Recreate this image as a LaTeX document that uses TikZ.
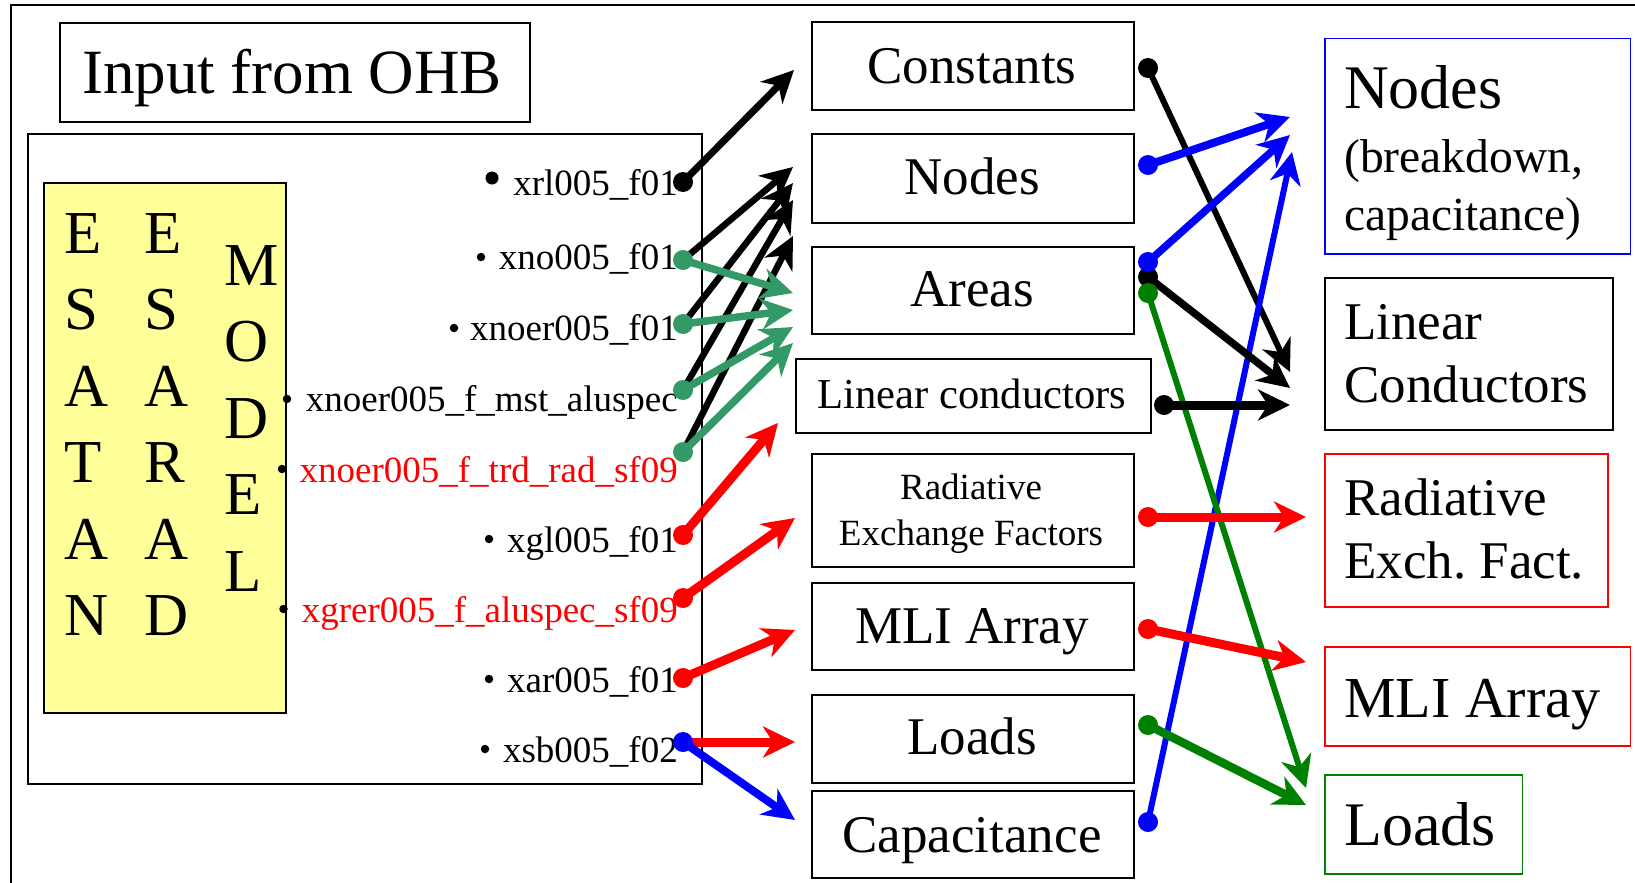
\documentclass[tikz,border=0pt]{standalone}
\usepackage{fontspec}
\setmainfont{Liberation Serif}
\usetikzlibrary{arrows.meta}
\definecolor{sgreen}{RGB}{51,153,102}
\definecolor{dgreen}{RGB}{0,128,0}
\definecolor{pale}{RGB}{255,255,153}
\newcommand{\fs}[1]{\fontsize{#1}{#1}\selectfont}
\begin{document}
\begin{tikzpicture}[x=1pt,y=-1pt,
  box/.style={draw, line width=2pt, inner sep=0pt, anchor=north west},
  txt/.style={inner sep=0pt},
  lbl/.style={inner sep=0pt, anchor=base east, font=\fs{37}},
  bul/.style={circle, fill=black, inner sep=0pt, minimum size=#1},
  dot/.style={circle, fill=#1, inner sep=0pt, minimum size=20pt},
  arr/.style={-{Stealth[length=32pt,width=31pt,inset=10pt]}},
  letter/.style={inner sep=0pt, anchor=base west, font=\fs{61}},
]
\useasboundingbox (0,0) rectangle (1635,883);

% outer frame
\draw[line width=2pt] (11,883) -- (11,5) -- (1635,5);

% left part: source model
\node[box, minimum width=470pt, minimum height=99pt] (ohb) at (59,22) {};
\node[txt, anchor=base, font=\fs{63}] (ohbtext) at (292,93) {Input from OHB};
\node[box, minimum width=674pt, minimum height=650pt] (model) at (27,133) {};
\node[box, fill=pale, minimum width=242pt, minimum height=530pt] (yellow) at (43,182) {};

\foreach \l [count=\i from 0] in {E,S,A,T,A,N}
  \node[letter] (c1-\i) at (64,{253+76.5*\i}) {\l};
\foreach \l [count=\i from 0] in {E,S,A,R,A,D}
  \node[letter] (c2-\i) at (144,{253+76.5*\i}) {\l};
\foreach \l [count=\i from 0] in {M,O,D,E,L}
  \node[letter] (c3-\i) at (224,{285+76.5*\i}) {\l};

% file labels
\node[lbl] (l-xrl)   at (678,195) {xrl005\_f01};
\node[lbl] (l-xno)   at (678,269) {xno005\_f01};
\node[lbl] (l-xnoer) at (678,340) {xnoer005\_f01};
\node[lbl] (l-mst)   at (678,411) {xnoer005\_f\_mst\_aluspec};
\node[lbl, red] (l-trd)   at (678,482) {xnoer005\_f\_trd\_rad\_sf09};
\node[lbl] (l-xgl)   at (678,552) {xgl005\_f01};
\node[lbl, red] (l-xgrer) at (678,622) {xgrer005\_f\_aluspec\_sf09};
\node[lbl] (l-xar)   at (678,692) {xar005\_f01};
\node[lbl] (l-xsb)   at (678,762) {xsb005\_f02};

\node[bul=13pt] (b-xrl)   at (492,178) {};
\node[bul=8.5pt] (b-xno)   at (481,257) {};
\node[bul=8.5pt] (b-xnoer) at (454,328) {};
\node[bul=8.5pt] (b-mst)   at (287,399) {};
\node[bul=8.5pt] (b-trd)   at (282,469) {};
\node[bul=8.5pt] (b-xgl)   at (489,539) {};
\node[bul=8.5pt] (b-xgrer) at (283.5,609) {};
\node[bul=8.5pt] (b-xar)   at (489,679) {};
\node[bul=8.5pt] (b-xsb)   at (485,749) {};

% middle column
\node[box, minimum width=322pt, minimum height=88pt] (mconst) at (811,21) {};
\node[box, minimum width=322pt, minimum height=89pt] (mnodes) at (811,133) {};
\node[box, minimum width=322pt, minimum height=87pt] (mareas) at (811,246) {};
\node[box, minimum width=355pt, minimum height=74pt] (mlin) at (795,358) {};
\node[box, minimum width=322pt, minimum height=113pt] (mrad) at (811,453) {};
\node[box, minimum width=322pt, minimum height=87pt] (mmli) at (811,582) {};
\node[box, minimum width=322pt, minimum height=88pt] (mloads) at (811,694) {};
\node[box, minimum width=322pt, minimum height=87pt] (mcap) at (811,790) {};

\node[txt, anchor=base, font=\fs{53}] (tconst) at (972,83) {Constants};
\node[txt, anchor=base, font=\fs{53}] (tnodes) at (972,194) {Nodes};
\node[txt, anchor=base, font=\fs{53}] (tareas) at (972,306) {Areas};
\node[txt, anchor=base, font=\fs{42.6}] (tlin) at (972,408) {Linear conductors};
\node[txt, anchor=base, font=\fs{37}] (trad1) at (971,499) {Radiative};
\node[txt, anchor=base, font=\fs{37}] (trad2) at (971,545) {Exchange Factors};
\node[txt, anchor=base, font=\fs{53}] (tmli) at (972,643) {MLI Array};
\node[txt, anchor=base, font=\fs{53}] (tloads) at (972,754) {Loads};
\node[txt, anchor=base, font=\fs{53}] (tcap) at (972,852) {Capacitance};

% right column
\node[box, draw=blue, line width=1.5pt, minimum width=305.5pt, minimum height=215pt] (rnodes) at (1324,38) {};
\node[box, minimum width=287.5pt, minimum height=152pt] (rlin) at (1324,277) {};
\node[box, draw=red, line width=1.5pt, minimum width=283pt, minimum height=153pt] (rrad) at (1324,453) {};
\node[box, draw=red, line width=1.5pt, minimum width=305.5pt, minimum height=99pt] (rmli) at (1324,646) {};
\node[box, draw=dgreen, line width=1.5pt, minimum width=197.5pt, minimum height=99pt] (rloads) at (1324,774) {};

\node[txt, anchor=base west, font=\fs{62}] (rn1) at (1344,108) {Nodes};
\node[txt, anchor=base west, font=\fs{47.5}] (rn2) at (1344,172) {(breakdown,};
\node[txt, anchor=base west, font=\fs{47.5}] (rn3) at (1344,230) {capacitance)};
\node[txt, anchor=base west, font=\fs{53}] (rl1) at (1344,339) {Linear};
\node[txt, anchor=base west, font=\fs{53}] (rl2) at (1344,402) {Conductors};
\node[txt, anchor=base west, font=\fs{53}] (rr1) at (1344,515) {Radiative};
\node[txt, anchor=base west, font=\fs{53}] (rr2) at (1344,578) {Exch.\ Fact.};
\node[txt, anchor=base west, font=\fs{58}] (rm1) at (1344,717) {MLI Array};
\node[txt, anchor=base west, font=\fs{62}] (rlo1) at (1344,845) {Loads};

% connector end points
\coordinate (p-xrl) at (683,182);
\coordinate (p-xno) at (683,260);
\coordinate (p-xnoer) at (683,324);
\coordinate (p-mst) at (683,390);
\coordinate (p-trd) at (683,452);
\coordinate (p-xgl) at (683,535);
\coordinate (p-xgrer) at (683,598);
\coordinate (p-xar) at (683,678);
\coordinate (p-xsb) at (683,742);

\coordinate (t-const) at (794,70);
\coordinate (t-n1) at (793,167);
\coordinate (t-n2) at (793,183);
\coordinate (t-n3) at (793,200);
\coordinate (t-n4) at (793,236);
\coordinate (t-a1) at (793,293);
\coordinate (t-a2) at (793,310);
\coordinate (t-a3) at (793,327);
\coordinate (t-a4) at (793,343);
\coordinate (t-rad) at (778,423);
\coordinate (t-mli) at (795,518);
\coordinate (t-loads) at (795,630);
\coordinate (t-sbr) at (795,742);
\coordinate (t-sbb) at (795,820);

\coordinate (q-const) at (1148,68);
\coordinate (q-nodes) at (1148,165);
\coordinate (q-areasb) at (1148,262);
\coordinate (q-areask) at (1148,277);
\coordinate (q-areasg) at (1148,293);
\coordinate (q-lin) at (1164,405);
\coordinate (q-rad) at (1148,517);
\coordinate (q-mli) at (1148,629);
\coordinate (q-loads) at (1148,725);
\coordinate (q-cap) at (1148,822);

\coordinate (s-n1) at (1290,117);
\coordinate (s-n2) at (1290,135);
\coordinate (s-n3) at (1292,152);
\coordinate (s-l1) at (1290,372);
\coordinate (s-l2) at (1290,388);
\coordinate (s-l3) at (1290,405);
\coordinate (s-rad) at (1306,517);
\coordinate (s-mli) at (1306,662);
\coordinate (s-lo1) at (1306,788);
\coordinate (s-lo2) at (1306,805);

% left connectors
\draw[arr, line width=7pt] (p-xrl) -- (t-const);
\draw[arr, line width=6.5pt] (p-xno) -- (t-n1);
\draw[arr, line width=6.5pt] (p-xnoer) -- (t-n2);
\draw[arr, line width=6.5pt] (p-mst) -- (t-n3);
\draw[arr, line width=6.5pt] (p-trd) -- (t-n4);
\draw[arr, line width=7.5pt, sgreen] (p-xno) -- (t-a1);
\draw[arr, line width=7.5pt, sgreen] (p-xnoer) -- (t-a2);
\draw[arr, line width=7.5pt, sgreen] (p-mst) -- (t-a3);
\draw[arr, line width=7.5pt, sgreen] (p-trd) -- (t-a4);
\draw[arr, line width=9pt, red] (p-xgl) -- (t-rad);
\draw[arr, line width=9pt, red] (p-xgrer) -- (t-mli);
\draw[arr, line width=9pt, red] (p-xar) -- (t-loads);
\draw[arr, line width=9pt, red] (p-xsb) -- (t-sbr);
\draw[arr, line width=8pt, blue] (p-xsb) -- (t-sbb);

% right connectors
\draw[arr, line width=6pt] (q-const) -- (s-l1);
\draw[arr, line width=6pt, blue] (q-cap) -- (s-n3);
\draw[arr, line width=6pt, dgreen] (q-areasg) -- (s-lo1);
\draw[arr, line width=8pt, blue] (q-nodes) -- (s-n1);
\draw[arr, line width=7.5pt, blue] (q-areasb) -- (s-n2);
\draw[arr, line width=7.5pt] (q-areask) -- (s-l2);
\draw[arr, line width=9pt] (q-lin) -- (s-l3);
\draw[arr, line width=9pt, red] (q-rad) -- (s-rad);
\draw[arr, line width=9pt, red] (q-mli) -- (s-mli);
\draw[arr, line width=8.5pt, dgreen] (q-loads) -- (s-lo2);

% connector start dots
\node[dot=black] (d-xrl) at (p-xrl) {};
\node[dot=sgreen] (d-xno) at (p-xno) {};
\node[dot=sgreen] (d-xnoer) at (p-xnoer) {};
\node[dot=sgreen] (d-mst) at (p-mst) {};
\node[dot=sgreen] (d-trd) at (p-trd) {};
\node[dot=red] (d-xgl) at (p-xgl) {};
\node[dot=red] (d-xgrer) at (p-xgrer) {};
\node[dot=red] (d-xar) at (p-xar) {};
\node[dot=blue] (d-xsb) at (p-xsb) {};

\node[dot=black] (e-const) at (q-const) {};
\node[dot=blue] (e-nodes) at (q-nodes) {};
\node[dot=black] (e-areask) at (q-areask) {};
\node[dot=blue] (e-areasb) at (q-areasb) {};
\node[dot=dgreen] (e-areasg) at (q-areasg) {};
\node[dot=black] (e-lin) at (q-lin) {};
\node[dot=red] (e-rad) at (q-rad) {};
\node[dot=red] (e-mli) at (q-mli) {};
\node[dot=dgreen] (e-loads) at (q-loads) {};
\node[dot=blue] (e-cap) at (q-cap) {};
\end{tikzpicture}
\end{document}
